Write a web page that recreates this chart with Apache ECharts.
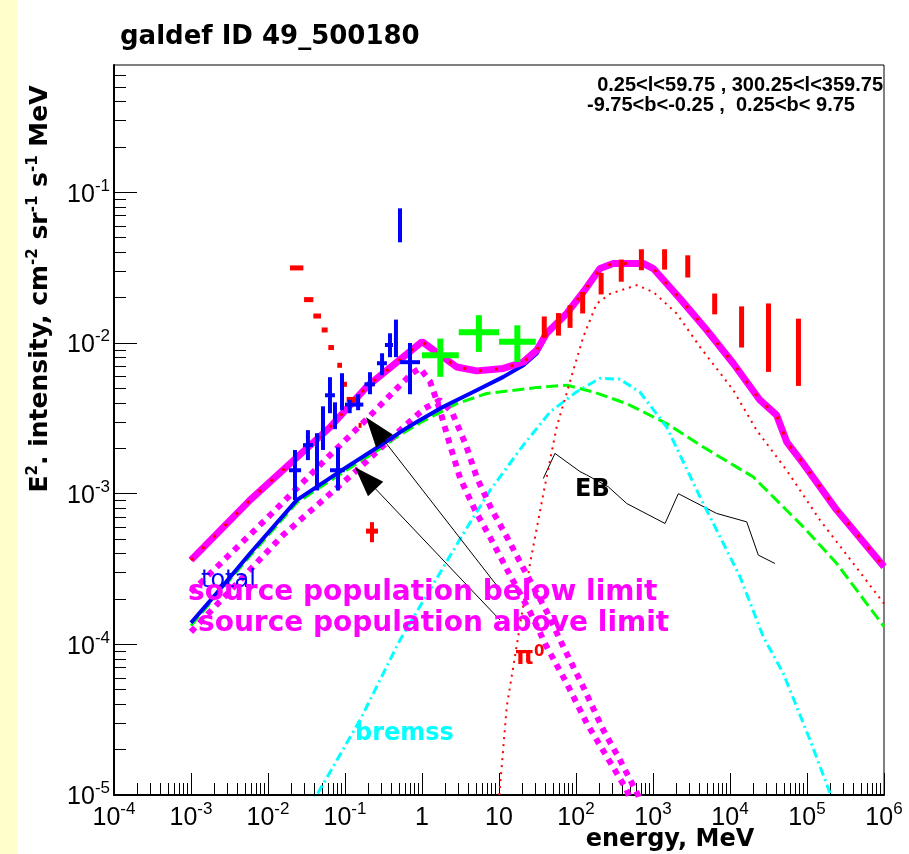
<!DOCTYPE html>
<html><head><meta charset="utf-8">
<script src="https://cdn.jsdelivr.net/npm/echarts@6/dist/echarts.min.js"></script>
<style>
html,body{margin:0;padding:0;background:#fff;}
#c{width:909px;height:854px;background:linear-gradient(to right,#ffffcc 0,#ffffcc 17px,#ffffff 17px);}
</style>
</head><body><div id="c"></div>
<script>
// ---------------- data ----------------
const xTickValues = [1e-4, 1e-3, 1e-2, 1e-1, 1, 10, 100, 1e3, 1e4, 1e5, 1e6];
const yTickValues = [1e-5, 1e-4, 1e-3, 1e-2, 1e-1];

// total incl. sources (magenta thick)
const totE = [1e-3, 5.83e-3, 6.38e-2, 0.191, 1.0, 2.82, 5.13, 11.4, 20.7, 30.9, 41.6, 75.7, 124.5, 205, 305, 748, 1009, 2244, 4977, 11040, 24550, 40360, 54450, 89540, 243200, 1e6];
const totI = [3.62e-4, 9.06e-4, 2.76e-3, 5.12e-3, 1.02e-2, 6.93e-3, 6.53e-3, 6.78e-3, 7.48e-3, 8.95e-3, 1.16e-2, 1.57e-2, 2.18e-2, 3.12e-2, 3.37e-2, 3.37e-2, 3.12e-2, 1.97e-2, 1.22e-2, 7.31e-3, 4.17e-3, 3.32e-3, 2.21e-3, 1.58e-3, 7.78e-4, 3.27e-4];
// total diffuse (blue)
const diffE = [1e-3, 2.15e-3, 5.83e-3, 0.0236, 0.078, 0.314, 0.571, 0.853, 1.89, 5.13, 11.4, 20.7, 30.9, 41.6];
const diffI = [1.39e-4, 2.18e-4, 4.01e-4, 9.06e-4, 1.36e-3, 2.15e-3, 2.64e-3, 2.99e-3, 3.77e-3, 4.86e-3, 5.96e-3, 7.11e-3, 8.51e-3, 1.13e-2];
// inverse Compton (green dashed)
const icE = [1e-3, 5.83e-3, 0.0236, 0.078, 0.314, 0.469, 0.942, 2.83, 6.9, 30.9, 75.7, 168, 455, 1503, 4498, 20090, 89540, 243200, 1e6];
const icI = [1.33e-4, 3.85e-4, 8.7e-4, 1.30e-3, 2.05e-3, 2.38e-3, 2.95e-3, 3.96e-3, 4.62e-3, 5.06e-3, 5.25e-3, 4.73e-3, 3.96e-3, 2.92e-3, 2.04e-3, 1.29e-3, 6.02e-4, 3.44e-4, 1.31e-4];
// bremsstrahlung (cyan dash-dot)
const brE = [0.025, 0.043, 0.157, 0.518, 3.44, 7.64, 20.7, 45.9, 100, 205, 372, 678, 1503, 4074, 13490, 27100, 49200, 109400, 199100, 4e5];
const brI = [6.2e-6, 1e-5, 3.15e-5, 1.07e-4, 5.43e-4, 1.05e-3, 2.10e-3, 3.48e-3, 4.71e-3, 5.83e-3, 5.75e-3, 4.71e-3, 2.77e-3, 9.53e-4, 2.81e-4, 1.12e-4, 6.41e-5, 2.32e-5, 1.03e-5, 3e-6];
// pi0 decay (red dotted)
const pi0E = [10.1, 12.6, 16.9, 25.3, 37.7, 56.1, 92.3, 124.5, 185, 277, 614, 1009, 2028, 4074, 11040, 22130, 54450, 147600, 400000, 1e6];
const pi0I = [1e-5, 3.85e-5, 9.64e-5, 3.44e-4, 1.0e-3, 2.77e-3, 6.59e-3, 1.10e-2, 1.82e-2, 2.12e-2, 2.42e-2, 2.18e-2, 1.57e-2, 9.42e-3, 4.86e-3, 2.64e-3, 1.43e-3, 6.67e-4, 3.44e-4, 1.86e-4];
// source population below limit (magenta dotted)
const srcAE = [1e-3, 0.0106, 0.0638, 0.191, 0.446, 0.741, 0.942, 1.27, 1.71, 2.31, 3.12, 4.88, 7.64, 13.9, 25.3, 41.6, 75.7, 138, 251, 455, 700];
const srcAI = [2.22e-4, 7.19e-4, 1.80e-3, 3.12e-3, 4.86e-3, 6.30e-3, 6.79e-3, 5.57e-3, 3.58e-3, 2.10e-3, 1.27e-3, 7.78e-4, 5.14e-4, 2.88e-4, 1.64e-4, 9.64e-5, 5.51e-5, 2.99e-5, 1.80e-5, 1.08e-5, 6e-6];
// source population above limit (magenta dotted)
const srcBE = [1e-3, 0.01567, 0.143, 0.518, 1.09, 1.71, 2.45, 3.72, 5.18, 8.11, 12.7, 23.1, 42.0, 68.4, 124, 226, 372, 638, 900];
const srcBI = [1.21e-4, 5.31e-4, 1.43e-3, 2.64e-3, 3.69e-3, 4.17e-3, 3.48e-3, 2.10e-3, 1.27e-3, 7.78e-4, 5.14e-4, 2.88e-4, 1.64e-4, 9.64e-5, 5.22e-5, 2.70e-5, 1.71e-5, 1e-5, 6e-6];
// extragalactic background (black)
const ebE = [37.6, 53.3, 113, 138, 263, 455, 1432, 2133, 6714, 16480, 23330, 38370];
const ebI = [1.26e-3, 1.85e-3, 1.40e-3, 1.33e-3, 1.11e-3, 8.61e-4, 6.34e-4, 1.00e-3, 7.39e-4, 6.50e-4, 3.91e-4, 3.44e-4];

// EGRET (red bars)
const egE  = [38.7, 59.2, 83.7, 122, 212, 387, 707, 1414, 2828, 6325, 14142, 31623, 77460];
const egLo = [1.08e-2, 1.12e-2, 1.26e-2, 1.57e-2, 2.10e-2, 2.55e-2, 3.04e-2, 3.07e-2, 2.72e-2, 1.55e-2, 9.33e-3, 6.43e-3, 5.19e-3];
const egHi = [1.50e-2, 1.58e-2, 1.78e-2, 2.18e-2, 2.92e-2, 3.58e-2, 4.19e-2, 4.19e-2, 3.82e-2, 2.13e-2, 1.75e-2, 1.83e-2, 1.45e-2];
// COMPTEL (green crosses)
const cE   = [1.73, 5.48, 17.3];
const cElo = [1, 3, 10];
const cEhi = [3, 10, 30];
const cI   = [8.30e-3, 1.18e-2, 1.02e-2];
const cIlo = [5.96e-3, 8.73e-3, 7.48e-3];
const cIhi = [1.07e-2, 1.53e-2, 1.31e-2];
// blue crosses
const bE   = [0.0224, 0.0330, 0.0433, 0.0518, 0.0638, 0.0741, 0.0811, 0.0914, 0.115, 0.148, 0.211, 0.303, 0.384, 0.459, 0.699, 0.518];
const bElo = [0.01875, 0.0285, 0.0433, 0.0518, 0.055, 0.0741, 0.0638, 0.0914, 0.100, 0.148, 0.179, 0.26, 0.33, 0.459, 0.518, 0.518];
const bEhi = [0.0269, 0.0384, 0.0433, 0.0518, 0.074, 0.0741, 0.0991, 0.0914, 0.173, 0.148, 0.245, 0.35, 0.42, 0.459, 0.942, 0.518];
const bI   = [1.43e-3, 2.10e-3, 1.6e-3, 2.8e-3, 4.50e-3, 3.42e-3, 1.43e-3, 4.64e-3, 3.9e-3, 4.0e-3, 5.32e-3, 7.34e-3, 9.7e-3, 1.08e-2, 7.46e-3, 6.0e-2];
const bIlo = [9.06e-4, 1.67e-3, 1.05e-3, 1.95e-3, 3.42e-3, 2.68e-3, 1.05e-3, 3.58e-3, 3.42e-3, 3.58e-3, 4.57e-3, 6.11e-3, 8.05e-3, 8.05e-3, 4.57e-3, 4.66e-2];
const bIhi = [1.95e-3, 2.64e-3, 2.52e-3, 3.80e-3, 5.93e-3, 4.04e-3, 2.03e-3, 6.30e-3, 4.2e-3, 4.57e-3, 6.40e-3, 8.55e-3, 1.16e-2, 1.43e-2, 1.0e-2, 7.83e-2];
// red low-energy points
const rE   = [0.0236, 0.0338, 0.0435, 0.0544, 0.0660, 0.0852, 0.100, 0.122, 0.157, 0.224];
const rElo = [0.0193, 0.0294, 0.0388, 0.0498, 0.0607, 0.0794, 0.094, 0.105, 0.150, 0.1875];
const rEhi = [0.0288, 0.0388, 0.0488, 0.0595, 0.0719, 0.0914, 0.106, 0.142, 0.164, 0.2685];
const rI   = [3.15e-2, 1.94e-2, 1.51e-2, 1.22e-2, 9.33e-3, 7.11e-3, 5.32e-3, 4.22e-3, 2.84e-3, 5.64e-4];
const rIlo = [3.15e-2, 1.94e-2, 1.51e-2, 1.22e-2, 9.33e-3, 7.11e-3, 5.32e-3, 4.22e-3, 2.84e-3, 4.76e-4];
const rIhi = [3.15e-2, 1.94e-2, 1.51e-2, 1.22e-2, 9.33e-3, 7.11e-3, 5.32e-3, 4.22e-3, 2.84e-3, 6.47e-4];

// annotation arrows (data coordinates; end = centre of the arrow head)
const arrowFromE = [9.7, 10.3];
const arrowFromI = [2.40e-4, 1.45e-4];
const arrowToE   = [0.2466, 0.1835];
const arrowToI   = [2.682e-3, 1.269e-3];

// ---------------- helpers ----------------
const xMinor = [], yMinor = [];
for (let n = -4; n < 6; n++) for (let k = 2; k <= 9; k++) xMinor.push(k * Math.pow(10, n));
for (let n = -5; n < 0; n++) for (let k = 2; k <= 9; k++) { const v = k * Math.pow(10, n); if (v <= 0.7) yMinor.push(v); }

const pairs = (xs, ys) => xs.map((x, i) => [x, ys[i]]);
const FM = '"Liberation Sans", Arial, sans-serif';
const FB = '"DejaVu Sans", sans-serif';

function supFmt(v) {
  const e = Math.round(Math.log10(v));
  if (e === 0) return '{n|1}';
  if (e === 1) return '{n|10}';
  return '{n|10}{s|' + e + '}';
}
const labelRich = {
  n: { fontSize: 25, fontFamily: FM, color: '#000', lineHeight: 30, verticalAlign: 'bottom' },
  s: { fontSize: 17, fontFamily: FM, color: '#000', lineHeight: 30, verticalAlign: 'top' }
};

function lineSeries(name, xs, ys, color, width, type, z, extra) {
  return Object.assign({
    name, type: 'line', data: pairs(xs, ys), symbol: 'none', smooth: false,
    lineStyle: { color, width, type, cap: 'butt' }, z, silent: true, clip: true,
    xAxisIndex: 0, yAxisIndex: 0
  }, extra || {});
}

function errSeries(name, E, Elo, Ehi, I, Ilo, Ihi, color, wv, wh, z) {
  const data = E.map((e, i) => [e, I[i], Elo[i], Ehi[i], Ilo[i], Ihi[i]]);
  return {
    name, type: 'custom', data, z, silent: true, clip: true,
    xAxisIndex: 0, yAxisIndex: 0,
    encode: { x: 0, y: 1 },
    renderItem(params, api) {
      const x = api.value(0), y = api.value(1), xl = api.value(2), xh = api.value(3), yl = api.value(4), yh = api.value(5);
      const ch = [];
      if (yl !== yh) {
        const p1 = api.coord([x, yl]), p2 = api.coord([x, yh]);
        ch.push({ type: 'line', shape: { x1: p1[0], y1: p1[1], x2: p2[0], y2: p2[1] }, style: { stroke: color, lineWidth: wv } });
      }
      if (xl !== xh) {
        const p1 = api.coord([xl, y]), p2 = api.coord([xh, y]);
        ch.push({ type: 'line', shape: { x1: p1[0], y1: p1[1], x2: p2[0], y2: p2[1] }, style: { stroke: color, lineWidth: wh } });
      }
      return { type: 'group', children: ch };
    }
  };
}

const egMid = egE.map((e, i) => Math.sqrt(egLo[i] * egHi[i]));

const chart = echarts.init(document.getElementById('c'), null, { renderer: 'canvas' });
const option = {
  animation: false,
  backgroundColor: 'transparent',
  grid: { left: 114, top: 65, width: 770, height: 730, show: true, borderColor: '#000', borderWidth: 1, backgroundColor: 'transparent' },
  xAxis: [
    { type: 'log', logBase: 10, min: 1e-4, max: 1e6, position: 'bottom',
      axisLine: { show: true, lineStyle: { color: '#000', width: 2 } },
      axisTick: { show: true, inside: true, length: 22, lineStyle: { color: '#000', width: 1 }, customValues: xTickValues },
      axisLabel: { show: true, customValues: xTickValues, formatter: supFmt, rich: labelRich, margin: 6, color: '#000' },
      splitLine: { show: false } },
    { type: 'log', logBase: 10, min: 1e-4, max: 1e6, position: 'bottom',
      axisLine: { show: false },
      axisTick: { show: true, inside: true, length: 12, lineStyle: { color: '#000', width: 1 }, customValues: xMinor },
      axisLabel: { show: false }, splitLine: { show: false } }
  ],
  yAxis: [
    { type: 'log', logBase: 10, min: 1e-5, max: 0.7, position: 'left',
      axisLine: { show: true, lineStyle: { color: '#000', width: 2 } },
      axisTick: { show: true, inside: true, length: 23, lineStyle: { color: '#000', width: 1 }, customValues: yTickValues },
      axisLabel: { show: true, customValues: yTickValues, formatter: supFmt, rich: labelRich, margin: 4, color: '#000' },
      splitLine: { show: false } },
    { type: 'log', logBase: 10, min: 1e-5, max: 0.7, position: 'left',
      axisLine: { show: false },
      axisTick: { show: true, inside: true, length: 12, lineStyle: { color: '#000', width: 1 }, customValues: yMinor },
      axisLabel: { show: false }, splitLine: { show: false } }
  ],
  series: [
    lineSeries('EB', ebE, ebI, '#000000', 1, 'solid', 2),
    lineSeries('IC', icE, icI, '#00ff00', 3, [12, 5], 2),
    lineSeries('bremss', brE, brI, '#00ffff', 3, [9, 4, 2, 4], 2),
    lineSeries('pi0', pi0E, pi0I, '#ff0000', 2, [2, 5], 2),
    lineSeries('sources below limit', srcAE, srcAI, '#ff00ff', 6, [6, 6], 3, {
      markLine: {
        silent: true, symbol: ['none', 'triangle'], symbolSize: [21, 30],
        lineStyle: { color: '#000', width: 1, type: 'solid' }, label: { show: false },
        itemStyle: { color: '#000' },
        data: arrowFromE.map((e, i) => [{ coord: [e, arrowFromI[i]] }, { coord: [arrowToE[i], arrowToI[i]] }])
      }
    }),
    lineSeries('sources above limit', srcBE, srcBI, '#ff00ff', 6, [6, 6], 3),
    lineSeries('total', diffE, diffI, '#0000ff', 4, 'solid', 4),
    lineSeries('total+sources', totE, totI, '#ff00ff', 7, 'solid', 5),
    lineSeries('total+sources dots', totE, totI, '#ff0000', 3, [3, 13], 6),
    errSeries('red data', rE, rElo, rEhi, rI, rIlo, rIhi, '#ff0000', 4, 5, 7),
    errSeries('blue data', bE, bElo, bEhi, bI, bIlo, bIhi, '#0000ff', 4, 4, 7),
    errSeries('COMPTEL', cE, cElo, cEhi, cI, cIlo, cIhi, '#00ff00', 6, 6, 7),
    errSeries('EGRET', egE, egE, egE, egMid, egLo, egHi, '#ff0000', 5, 5, 7)
  ],
  graphic: [
    { type: 'text', x: 120, y: 37, z: 100, style: { text: 'galdef ID 49_500180', font: 'bold 26px ' + FB, fill: '#000', verticalAlign: 'middle' } },
    { type: 'text', x: 883, y: 85, z: 100, style: { text: '0.25<l<59.75 , 300.25<l<359.75', font: 'bold 20px ' + FM, fill: '#000', align: 'right', verticalAlign: 'middle' } },
    { type: 'text', x: 587, y: 105, z: 100, style: { text: '-9.75<b<-0.25 ,  0.25<b< 9.75', font: 'bold 20px ' + FM, fill: '#000', verticalAlign: 'middle' } },
    { type: 'text', x: 670, y: 840, z: 100, style: { text: 'energy, MeV', font: 'bold 24px ' + FB, fill: '#000', align: 'center', verticalAlign: 'middle' } },
    { type: 'text', x: 40, y: 289, rotation: Math.PI / 2, z: 100, style: {
        text: 'E{s|2}. intensity, cm{s|-2} sr{s|-1} s{s|-1} MeV', font: 'bold 25px ' + FB, fill: '#000', align: 'center', verticalAlign: 'middle',
        rich: { s: { font: 'bold 15px ' + FB, fill: '#000', verticalAlign: 'top', lineHeight: 29 } } } },
    { type: 'text', x: 201, y: 581, z: 100, style: { text: 'total', font: '24px ' + FB, fill: '#0000ff', verticalAlign: 'middle' } },
    { type: 'text', x: 188, y: 593, z: 100, style: { text: 'source population below limit', font: 'bold 28px ' + FB, fill: '#ff00ff', verticalAlign: 'middle' } },
    { type: 'text', x: 198, y: 624, z: 100, style: { text: 'source population above limit', font: 'bold 28px ' + FB, fill: '#ff00ff', verticalAlign: 'middle' } },
    { type: 'text', x: 515, y: 658, z: 100, style: { text: 'π{s|0}', font: 'bold 24px ' + FB, fill: '#ff0000', verticalAlign: 'middle',
        rich: { s: { font: 'bold 15px ' + FB, fill: '#ff0000', verticalAlign: 'top', lineHeight: 26 } } } },
    { type: 'text', x: 355, y: 734, z: 100, style: { text: 'bremss', font: 'bold 24px ' + FB, fill: '#00ffff', verticalAlign: 'middle' } },
    { type: 'text', x: 575, y: 490, z: 100, style: { text: 'EB', font: 'bold 24px ' + FB, fill: '#000', verticalAlign: 'middle' } }
  ]
};
chart.setOption(option);
</script>
</body></html>
